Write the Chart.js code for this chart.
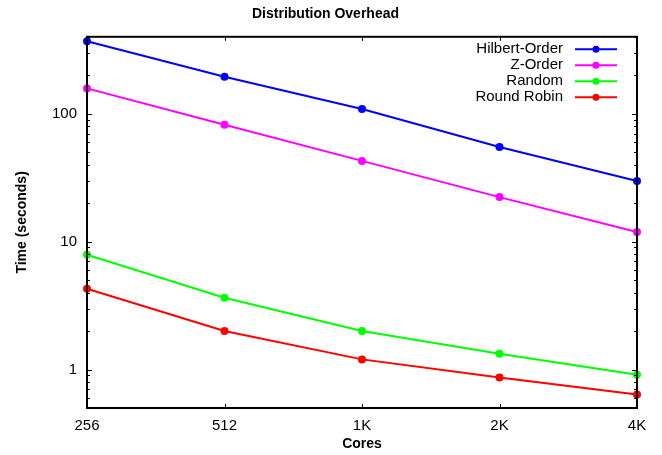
<!DOCTYPE html>
<html>
<head>
<meta charset="utf-8">
<script src="https://cdn.jsdelivr.net/npm/chart.js@4/dist/chart.umd.min.js"></script>
<style>
  html, body { margin: 0; padding: 0; background: #fff; }
  #wrap { width: 662px; height: 455px; }
</style>
</head>
<body>
<div id="wrap"><canvas id="grafico"></canvas></div>
<script>
// Datos (escala logarítmica en Y)
const cores = ["256", "512", "1K", "2K", "4K"];
const hilbertOrder = [369, 195, 109, 55, 29.8];
const zOrder = [158, 82, 42.8, 22.3, 11.9];
const random = [7.9, 3.64, 2.0, 1.33, 0.91];
const roundRobin = [4.28, 2.0, 1.2, 0.865, 0.637];
const yTicks = [1, 10, 100];

const FUENTE = "'Liberation Sans', Arial, sans-serif";

// Caja negra con marcas hacia dentro, al estilo gnuplot
const cajaPlugin = {
  id: "caja",
  afterDatasetsDraw(chart) {
    const { ctx, chartArea: a, scales } = chart;
    const x = scales.x, y = scales.y;
    ctx.save();
    ctx.strokeStyle = "#000";
    ctx.lineWidth = 1;
    ctx.beginPath();
    // marcas del eje Y (mayores y menores)
    for (let dec = 0.1; dec <= 1000; dec *= 10) {
      for (let m = 1; m <= 9; m++) {
        const v = dec * m;
        if (v < y.min || v > y.max) continue;
        const py = Math.round(y.getPixelForValue(v)) + 0.5;
        const len = m === 1 ? 5 : 3;
        ctx.moveTo(a.left, py); ctx.lineTo(a.left + len, py);
        ctx.moveTo(a.right, py); ctx.lineTo(a.right - len, py);
      }
    }
    // marcas del eje X
    cores.forEach((c, i) => {
      const px = Math.round(x.getPixelForValue(i)) + 0.5;
      ctx.moveTo(px, a.bottom); ctx.lineTo(px, a.bottom - 4);
      ctx.moveTo(px, a.top); ctx.lineTo(px, a.top + 4);
    });
    ctx.stroke();
    ctx.lineWidth = 2;
    ctx.strokeRect(a.left, a.top, a.right - a.left, a.bottom - a.top);
    ctx.restore();
  },
};

// Leyenda dentro del área, texto a la derecha alineado y muestra de línea
const leyendaPlugin = {
  id: "leyendaDentro",
  afterDraw(chart) {
    const { ctx, chartArea: a } = chart;
    ctx.save();
    ctx.font = "15px " + FUENTE;
    ctx.textAlign = "right";
    ctx.textBaseline = "middle";
    chart.data.datasets.forEach((ds, i) => {
      const yy = a.top + 12.5 + i * 16;
      const xTexto = a.right - 74;
      ctx.fillStyle = "#000";
      ctx.fillText(ds.label, xTexto, yy);
      ctx.strokeStyle = ds.borderColor;
      ctx.lineWidth = 2;
      ctx.beginPath();
      ctx.moveTo(a.right - 62, yy);
      ctx.lineTo(a.right - 20, yy);
      ctx.stroke();
      ctx.fillStyle = ds.borderColor;
      ctx.beginPath();
      ctx.arc(a.right - 41, yy, 3.5, 0, Math.PI * 2);
      ctx.fill();
    });
    ctx.restore();
  },
};

function serie(label, datos, color) {
  return {
    label,
    data: datos,
    borderColor: color,
    backgroundColor: color,
    borderWidth: 2,
    pointRadius: 4,
    pointHoverRadius: 4,
    pointBorderWidth: 0,
    tension: 0,
    fill: false,
  };
}

new Chart(document.getElementById("grafico"), {
  type: "line",
  data: {
    labels: cores,
    datasets: [
      serie("Hilbert-Order", hilbertOrder, "#0000ff"),
      serie("Z-Order", zOrder, "#ff00ff"),
      serie("Random", random, "#00ff00"),
      serie("Round Robin", roundRobin, "#ff0000"),
    ],
  },
  options: {
    responsive: true,
    maintainAspectRatio: false,
    animation: false,
    layout: { padding: { top: 0, right: 25, bottom: 2, left: 14 } },
    plugins: {
      legend: { display: false },
      tooltip: { enabled: false },
      title: {
        display: true,
        text: "Distribution Overhead",
        color: "#000",
        font: { family: FUENTE, size: 14, weight: "bold" },
        padding: { top: 6, bottom: 14 },
      },
    },
    scales: {
      x: {
        type: "category",
        offset: false,
        grid: { display: false, drawTicks: false },
        border: { display: false },
        afterFit(scale) {
          scale.height = 45;
        },
        ticks: { color: "#000", font: { family: FUENTE, size: 15 }, padding: 9, maxRotation: 0 },
        title: {
          display: true,
          text: "Cores",
          color: "#000",
          font: { family: FUENTE, size: 14, weight: "bold" },
          padding: { top: 2, bottom: 0 },
        },
      },
      y: {
        type: "logarithmic",
        min: 0.5,
        max: 400,
        grid: { display: false, drawTicks: false },
        border: { display: false },
        afterBuildTicks(scale) {
          scale.ticks = yTicks.map((v) => ({ value: v }));
        },
        afterFit(scale) {
          scale.width = 73;
        },
        ticks: {
          color: "#000",
          font: { family: FUENTE, size: 15 },
          padding: 10,
          callback: (v) => String(v),
        },
        title: {
          display: true,
          text: "Time (seconds)",
          color: "#000",
          font: { family: FUENTE, size: 14, weight: "bold" },
          padding: { top: 0, bottom: 0 },
        },
      },
    },
  },
  plugins: [cajaPlugin, leyendaPlugin],
});
</script>
</body>
</html>
